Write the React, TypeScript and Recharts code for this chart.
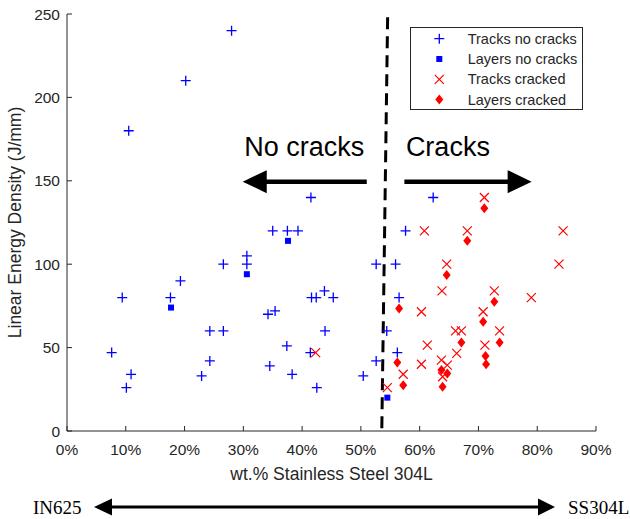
import React from 'react';
import { Legend, ReferenceLine, Scatter, ScatterChart, XAxis, YAxis } from 'recharts';

const xTicks = [0, 10, 20, 30, 40, 50, 60, 70, 80, 90];
const yTicks = [0, 50, 100, 150, 200, 250];

// [wt.% SS304L, linear energy density (J/mm)]
const tracksNoCracks = [
    [28, 240], [20.2, 210], [10.5, 180], [41.5, 140], [62.3, 140],
    [35, 120], [37.5, 120], [39.3, 120], [57.6, 120], [30.6, 105],
    [26.6, 100], [30.6, 100], [52.6, 100], [55.9, 100], [19.3, 90],
    [43.8, 84], [9.4, 80], [17.6, 80], [41.6, 80], [42.4, 80],
    [45.3, 80], [56.5, 80], [34.2, 70], [35.4, 72], [24.3, 60],
    [26.6, 60], [43.9, 60], [54.4, 60], [37.4, 51], [7.6, 47],
    [41.4, 47], [56.2, 47], [24.3, 42], [52.6, 42], [34.5, 39],
    [10.9, 34], [38.3, 34], [22.9, 33], [50.4, 33], [10.1, 26], [42.5, 26],
];
const layersNoCracks = [[37.6, 114], [30.6, 94], [17.7, 74], [54.5, 20]];
const tracksCracked = [
    [42.3, 47], [71, 140], [60.8, 120], [68.1, 120], [84.4, 120],
    [64.6, 100], [83.7, 100], [63.8, 84], [72.7, 84], [79, 80],
    [60.3, 71.5], [70.8, 71.5], [66.1, 60], [67.1, 60], [73.6, 60],
    [61.3, 51.5], [71.1, 51.5], [66.3, 46.5], [60.3, 40], [63.7, 42.5],
    [64.7, 39.5], [63.9, 32.5], [57.2, 34], [54.5, 26],
];
const layersCracked = [
    [71, 133.5], [68.1, 114], [64.6, 93.5], [72.7, 77.5], [56.5, 73.5],
    [70.8, 65.5], [67.1, 53], [73.6, 53], [56.2, 41], [71.2, 45],
    [71.3, 40], [63.7, 36.5], [64.7, 34.5], [63.9, 26.5], [57.2, 27.5],
];

const seriesNames = ['Tracks no cracks', 'Layers no cracks', 'Tracks cracked', 'Layers cracked'];

const toPoints = (arr: number[][]) => arr.map(([x, y]) => ({ x, y }));

const FONT = '"Liberation Sans", Arial, sans-serif';
const AXIS = '#262626';
const BLUE = '#0000ff';
const RED = '#ff0000';

const drawMarker = (name: string, cx: number, cy: number) => {
    switch (name) {
        case 'Tracks no cracks':
            return <path d={`M${cx - 5},${cy}H${cx + 5}M${cx},${cy - 5}V${cy + 5}`} stroke={BLUE} strokeWidth={1.3} fill="none" />;
        case 'Layers no cracks':
            return <rect x={cx - 3} y={cy - 3} width={6} height={6} fill={BLUE} />;
        case 'Tracks cracked':
            return <path d={`M${cx - 4.5},${cy - 4.5}L${cx + 4.5},${cy + 4.5}M${cx - 4.5},${cy + 4.5}L${cx + 4.5},${cy - 4.5}`} stroke={RED} strokeWidth={1.2} fill="none" />;
        default:
            return <polygon points={`${cx},${cy - 5} ${cx + 4},${cy} ${cx},${cy + 5} ${cx - 4},${cy}`} fill={RED} />;
    }
};

const shapeFor = (name: string) => (p: any) => drawMarker(name, p.cx, p.cy);

// thick annotation arrow with its caption
const arrowShape = (caption: string) => (p: any) => {
    const { x1, y1, x2, y2 } = p;
    const dir = x2 > x1 ? 1 : -1;
    const head = 24;
    return (
        <g>
            <line x1={x1} y1={y1} x2={x2 - dir * (head - 1)} y2={y2} stroke="#000" strokeWidth={4.5} />
            <polygon points={`${x2},${y2} ${x2 - dir * head},${y2 - 11.5} ${x2 - dir * head},${y2 + 11.5}`} fill="#000" />
            <text x={Math.min(x1, x2) + 1.5} y={y1 - 26} fontSize={27} fontFamily={FONT} fill="#000">{caption}</text>
        </g>
    );
};

const LegendBox = (props: any) => {
    const items = [...(props.payload ?? [])].sort(
        (a: any, b: any) => seriesNames.indexOf(a.value) - seriesNames.indexOf(b.value)
    );
    return (
        <div style={{ width: 173, height: 83, border: `1px solid ${AXIS}`, boxSizing: 'border-box', background: '#fff' }}>
            <svg width={171} height={81} style={{ display: 'block' }}>
                {items.map((it: any, i: number) => {
                    const cy = 10.7 + i * 20.3;
                    return (
                        <g key={it.value}>
                            {drawMarker(it.value, 28.3, cy)}
                            <text x={56.7} y={cy} dominantBaseline="central" fontSize={14.5} fontFamily={FONT} fill={AXIS}>{it.value}</text>
                        </g>
                    );
                })}
            </svg>
        </div>
    );
};

export default function App() {
    const tickStyle = { fill: AXIS, fontSize: 15.5, fontFamily: FONT };
    return (
        <div style={{ position: 'absolute', left: 0, top: 0, width: 630, height: 519, background: '#fff' }}>
            <ScatterChart width={630} height={519} margin={{ top: 14, right: 34, left: 0, bottom: 33 }}>
                <XAxis
                    type="number"
                    dataKey="x"
                    domain={[0, 90]}
                    ticks={xTicks}
                    interval={0}
                    tickFormatter={(v: number) => `${v}%`}
                    height={55}
                    stroke={AXIS}
                    tick={tickStyle}
                    tickSize={-5}
                    tickMargin={18}
                    label={{ value: 'wt.% Stainless Steel 304L', position: 'insideBottom', offset: 6, fill: AXIS, fontSize: 17.5, fontFamily: FONT }}
                />
                <YAxis
                    type="number"
                    dataKey="y"
                    domain={[0, 250]}
                    ticks={yTicks}
                    interval={0}
                    width={67}
                    stroke={AXIS}
                    tick={tickStyle}
                    tickSize={-5}
                    tickMargin={12}
                    label={{ value: 'Linear Energy Density (J/mm)', angle: -90, position: 'insideLeft', offset: 15, fill: AXIS, fontSize: 17.5, fontFamily: FONT, style: { textAnchor: 'middle' } }}
                />
                <ReferenceLine
                    segment={[{ x: 54.55, y: 248 }, { x: 53.55, y: -1 }]}
                    stroke="#000"
                    strokeWidth={3}
                    strokeDasharray="12 7"
                    ifOverflow="visible"
                />
                <ReferenceLine segment={[{ x: 51, y: 149.5 }, { x: 29.9, y: 149.5 }]} shape={arrowShape('No cracks')} />
                <ReferenceLine segment={[{ x: 57.4, y: 149.5 }, { x: 79.05, y: 149.5 }]} shape={arrowShape('Cracks')} />
                <Scatter name={seriesNames[0]} data={toPoints(tracksNoCracks)} fill={BLUE} shape={shapeFor(seriesNames[0])} isAnimationActive={false} />
                <Scatter name={seriesNames[1]} data={toPoints(layersNoCracks)} fill={BLUE} shape={shapeFor(seriesNames[1])} isAnimationActive={false} />
                <Scatter name={seriesNames[2]} data={toPoints(tracksCracked)} fill={RED} shape={shapeFor(seriesNames[2])} isAnimationActive={false} />
                <Scatter name={seriesNames[3]} data={toPoints(layersCracked)} fill={RED} shape={shapeFor(seriesNames[3])} isAnimationActive={false} />
                <Legend
                    layout="vertical"
                    align="center"
                    verticalAlign="middle"
                    content={LegendBox}
                    wrapperStyle={{ left: 410, top: 27, width: 173, height: 83 }}
                />
            </ScatterChart>
            {/* composition arrow below the chart */}
            <svg width={630} height={519} style={{ position: 'absolute', left: 0, top: 0, pointerEvents: 'none' }}>
                <line x1={110} y1={507} x2={540} y2={507} stroke="#000" strokeWidth={3} />
                <polygon points="94,507 112,498.5 112,515.5" fill="#000" />
                <polygon points="555,507 538,498.5 538,515.5" fill="#000" />
                <text x={33} y={513.5} fontSize={19} fontFamily='"Liberation Serif", "Times New Roman", serif' fill="#000">IN625</text>
                <text x={568} y={513.5} fontSize={19} fontFamily='"Liberation Serif", "Times New Roman", serif' fill="#000">SS304L</text>
            </svg>
        </div>
    );
}
